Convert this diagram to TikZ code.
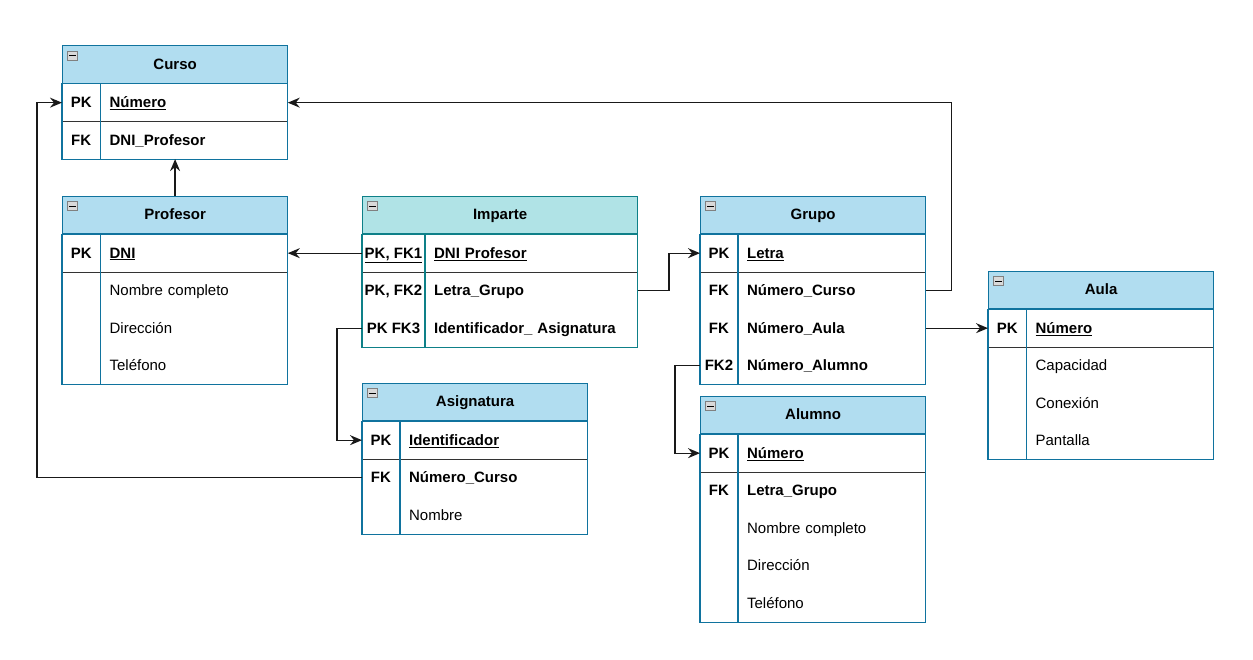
\documentclass[tikz,border=0pt]{standalone}
\usepackage{fontspec}
\setmainfont{Liberation Sans}
\usetikzlibrary{arrows.meta, calc, positioning}
\definecolor{erBorder}{HTML}{10739E}
\definecolor{erHead}{HTML}{B1DDF0}
\definecolor{erBorderTeal}{HTML}{0E8088}
\definecolor{erHeadTeal}{HTML}{B0E3E6}
\newcommand{\erfont}{\fontsize{15}{18}\selectfont}
\newcommand{\pkname}[1]{\underline{\textbf{#1}}}
\newcommand{\fkname}[1]{\textbf{#1}}
% #1 colour suffix, #2 name, #3 top left, #4 width, #5 key width, #6 title, #7 rows
\newcommand{\erTable}[7][]{%
    \pgfmathsetmacro{\fieldw}{#4-#5-18}
    \node[head, fill=erHead#1, draw=erBorder#1, minimum width=#4pt, anchor=north west] (#2) at #3 {#6};
    \node[toggle] (#2-toggle) at ([shift={(10.5,10.5)}]#2.north west) {};
    \draw[line width=1pt] ([xshift=2pt]#2-toggle.west) -- ([xshift=-2pt]#2-toggle.east);
    \foreach \k/\f [count=\i] in {#7} {
        \node[keycell, minimum width=#5pt, anchor=north west] (#2-k\i) at ([yshift={-37.5*(\i-1)*1pt}]#2.south west) {\k};
        \node[fieldcell, text width=\fieldw pt, right=0pt of #2-k\i] (#2-f\i) {\f};
        \xdef\lastrow{\i}
    }
    \draw[pkline] (#2-k1.south west) -- (#2-f1.south east);
    \draw[frameline, draw=erBorder#1] (#2.south west) rectangle (#2-f\lastrow.south east);
    \draw[frameline, draw=erBorder#1] (#2-k1.north east) -- (#2-k\lastrow.south east);
}

\begin{document}
\begin{tikzpicture}[x=1pt, y=-1pt,
        head/.style={line width=1.2pt, minimum height=37.5pt, inner sep=0pt, font=\erfont\bfseries, text height=12pt, text depth=2pt},
        keycell/.style={minimum height=37.5pt, inner sep=0pt, font=\erfont\bfseries, text height=12pt, text depth=2pt},
        fieldcell/.style={minimum height=37.5pt, inner xsep=9pt, inner ysep=0pt, align=left, font=\erfont, text height=12pt, text depth=2pt},
        frameline/.style={line width=1.2pt},
        pkline/.style={draw=black!80, line width=1.2pt},
        toggle/.style={draw=gray, fill=gray!30, minimum width=10pt, minimum height=9pt, inner sep=0pt, line width=0.6pt},
        fk/.style={draw=black!90, line width=1.3pt, -{Stealth[length=12pt, width=10pt, inset=4pt]}}
    ]
    \useasboundingbox (0,0) rectangle (1253,659);

    % TABLE: Curso
    \erTable{curso}{(62,45)}{225}{38}{Curso}{PK/\pkname{Número}, FK/\fkname{DNI\_Profesor}}

    % TABLE: Profesor
    \erTable{profesor}{(62,195.5)}{225}{38}{Profesor}{PK/\pkname{DNI}, {}/Nombre completo, {}/Dirección, {}/Teléfono}

    % TABLE: Imparte
    \erTable[Teal]{imparte}{(362,195.5)}{275}{62.5}{Imparte}{{\underline{PK, FK1}}/\pkname{DNI Profesor}, {PK, FK2}/\fkname{Letra\_Grupo}, PK FK3/\fkname{Identificador\_ Asignatura}}

    % TABLE: Asignatura
    \erTable{asignatura}{(362,382.5)}{225}{37.5}{Asignatura}{PK/\pkname{Identificador}, FK/\fkname{Número\_Curso}, {}/Nombre}

    % TABLE: Grupo
    \erTable{grupo}{(700,195.5)}{225}{37.5}{Grupo}{PK/\pkname{Letra}, FK/\fkname{Número\_Curso}, FK/\fkname{Número\_Aula}, FK2/\fkname{Número\_Alumno}}

    % TABLE: Alumno
    \erTable{alumno}{(700,395.5)}{225}{37.5}{Alumno}{PK/\pkname{Número}, FK/\fkname{Letra\_Grupo}, {}/Nombre completo, {}/Dirección, {}/Teléfono}

    % TABLE: Aula
    \erTable{aula}{(988,270.5)}{225}{38}{Aula}{PK/\pkname{Número}, {}/Capacidad, {}/Conexión, {}/Pantalla}

    % relations
    \draw[fk] (profesor.north) -- (profesor.north |- curso-k2.south);
    \draw[fk] (imparte-k1.west) -- (profesor-f1.east);
    \draw[fk] (imparte-f2.east) -| ($(imparte-f2.east)!.5!(grupo-k1.west)$) |- (grupo-k1.west);
    \draw[fk] (imparte-k3.west) -- ++(-25,0) |- (asignatura-k1.west);
    \draw[fk] (asignatura-k2.west) -| ([xshift=-25pt]curso-k1.west) -- (curso-k1.west);
    \draw[fk] (grupo-f2.east) -- ++(26,0) |- (curso-f1.east);
    \draw[fk] (grupo-f3.east) -- (aula-k1.west);
    \draw[fk] (grupo-k4.west) -- ++(-25,0) |- (alumno-k1.west);
\end{tikzpicture}
\end{document}
